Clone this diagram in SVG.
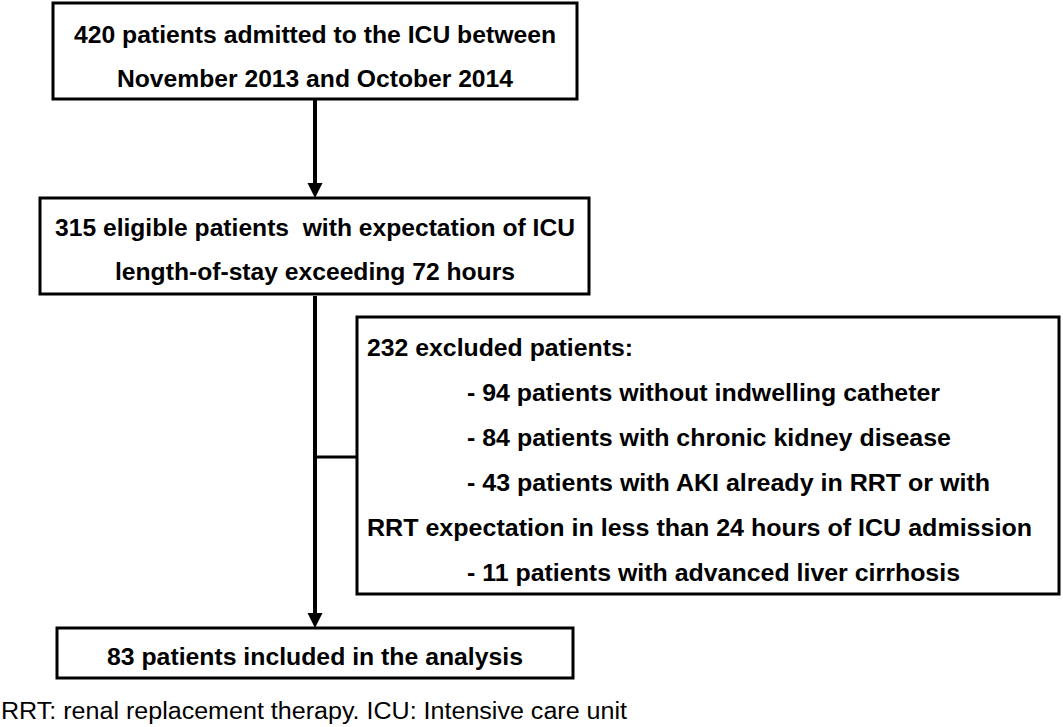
<svg xmlns="http://www.w3.org/2000/svg" width="1063" height="727" viewBox="0 0 1063 727">
<style>
.box{fill:#fff;stroke:#000;stroke-width:3}
.t{font-family:"Liberation Sans",Arial,sans-serif;font-weight:bold;font-size:23px;fill:#000}
.c{text-anchor:middle}
.conn{stroke:#000;stroke-width:4;fill:none}
.head{fill:#000}
.foot{font-family:"Liberation Sans",Arial,sans-serif;font-size:23px;fill:#000}
</style>
<rect width="1063" height="727" fill="#fff"/>
<g id="connectors">
<line class="conn" x1="315" y1="99" x2="315" y2="185"/>
<polygon class="head" points="307.5,183 322.5,183 315,198"/>
<line class="conn" x1="315" y1="296" x2="315" y2="615"/>
<polygon class="head" points="307.5,613 322.5,613 315,628"/>
<line class="conn" x1="315" y1="457" x2="357" y2="457" style="stroke-width:3"/>
</g>
<g id="n1">
<rect class="box" x="53" y="3" width="524" height="96"/>
<text class="t c" x="315" y="43" textLength="482" lengthAdjust="spacingAndGlyphs">420 patients admitted to the ICU between</text>
<text class="t c" x="315" y="87" textLength="396" lengthAdjust="spacingAndGlyphs">November 2013 and October 2014</text>
</g>
<g id="n2">
<rect class="box" x="40" y="198" width="549" height="96"/>
<text class="t c" x="315" y="236" textLength="520" lengthAdjust="spacingAndGlyphs" xml:space="preserve">315 eligible patients  with expectation of ICU</text>
<text class="t c" x="315" y="280" textLength="400" lengthAdjust="spacingAndGlyphs">length-of-stay exceeding 72 hours</text>
</g>
<g id="n3">
<rect class="box" x="357" y="317" width="702" height="277"/>
<text class="t" x="367" y="356" textLength="266" lengthAdjust="spacingAndGlyphs">232 excluded patients:</text>
<text class="t" x="467" y="401" textLength="473" lengthAdjust="spacingAndGlyphs">- 94 patients without indwelling catheter</text>
<text class="t" x="467" y="446" textLength="484" lengthAdjust="spacingAndGlyphs">- 84 patients with chronic kidney disease</text>
<text class="t" x="467" y="491" textLength="523" lengthAdjust="spacingAndGlyphs">- 43 patients with AKI already in RRT or with</text>
<text class="t" x="367" y="536" textLength="665" lengthAdjust="spacingAndGlyphs">RRT expectation in less than 24 hours of ICU admission</text>
<text class="t" x="467" y="581" textLength="493" lengthAdjust="spacingAndGlyphs">- 11 patients with advanced liver cirrhosis</text>
</g>
<g id="n4">
<rect class="box" x="57" y="628" width="516" height="50"/>
<text class="t c" x="315" y="665" textLength="416" lengthAdjust="spacingAndGlyphs">83 patients included in the analysis</text>
</g>
<g id="footnote">
<text class="foot" x="1" y="719" textLength="626" lengthAdjust="spacingAndGlyphs">RRT: renal replacement therapy. ICU: Intensive care unit</text>
</g>
</svg>
